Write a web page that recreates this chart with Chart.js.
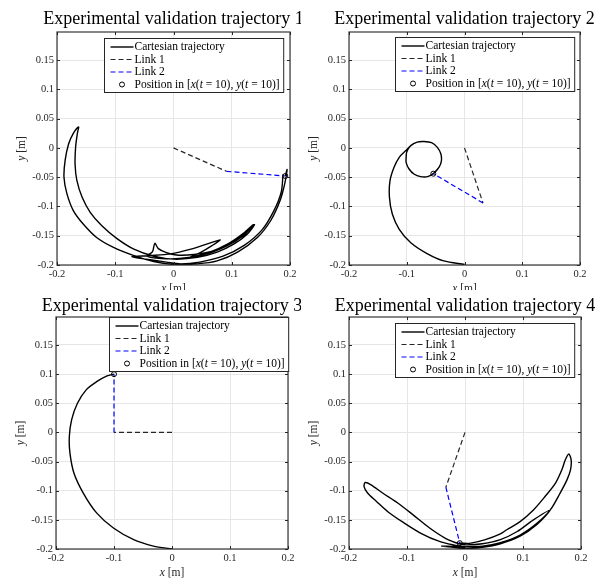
<!DOCTYPE html>
<html>
<head>
<meta charset="utf-8">
<script src="https://cdn.jsdelivr.net/npm/chart.js@4.4.1/dist/chart.umd.min.js"></script>
<style>
  body { margin: 0; background: #fff; }
  .cell { position: absolute; }
</style>
</head>
<body>
<div class="cell" style="left:0;top:0"><canvas id="c1" width="301" height="290"></canvas></div>
<div class="cell" style="left:301px;top:0"><canvas id="c2" width="301" height="290"></canvas></div>
<div class="cell" style="left:0;top:290px"><canvas id="c3" width="301" height="292"></canvas></div>
<div class="cell" style="left:301px;top:290px"><canvas id="c4" width="301" height="292"></canvas></div>
<script>
// axes / labels
const xTicks = [-0.2, -0.1, 0, 0.1, 0.2];
const yTicks = [-0.2, -0.15, -0.1, -0.05, 0, 0.05, 0.1, 0.15];
const xRange = [-0.2, 0.2];
const yRange = [-0.2, 0.198];
const titles = [
  'Experimental validation trajectory 1',
  'Experimental validation trajectory 2',
  'Experimental validation trajectory 3',
  'Experimental validation trajectory 4'
];
const legendLabels = ['Cartesian trajectory', 'Link 1', 'Link 2', 'Position in [x(t = 10), y(t = 10)]'];
const xLabel = 'x [m]';
const yLabel = 'y [m]';

// trajectory 1
const traj1 = [
  [0.188,-0.045],[0.185,-0.075],[0.172,-0.108],[0.152,-0.140],[0.122,-0.166],[0.085,-0.185],[0.045,-0.195],[0.012,-0.198],[-0.012,-0.195],
  [-0.040,-0.191],[-0.072,-0.186],[-0.040,-0.184],[-0.005,-0.181],[0.030,-0.173],[0.058,-0.164],[0.080,-0.157],
  [0.066,-0.167],[0.046,-0.179],[0.028,-0.187],[0.060,-0.179],[0.095,-0.163],[0.120,-0.146],[0.137,-0.131],
  [0.120,-0.150],[0.090,-0.168],[0.050,-0.183],[0.010,-0.189],[-0.020,-0.189],[-0.045,-0.185],
  [-0.036,-0.177],[-0.032,-0.163],[-0.026,-0.172],[-0.012,-0.179],[0.005,-0.183],[0.035,-0.182],[0.070,-0.175],[0.105,-0.158],[0.128,-0.142],[0.139,-0.131],
  [0.127,-0.147],[0.104,-0.164],[0.075,-0.178],[0.041,-0.187],[0.001,-0.190],[-0.034,-0.185],[-0.068,-0.173],[-0.097,-0.155],[-0.123,-0.133],
  [-0.143,-0.110],[-0.157,-0.084],[-0.166,-0.055],[-0.169,-0.027],[-0.168,0.002],[-0.165,0.025],[-0.163,0.036],
  [-0.172,0.025],[-0.180,0.007],[-0.186,-0.021],[-0.188,-0.050],[-0.183,-0.078],[-0.172,-0.107],[-0.155,-0.130],[-0.132,-0.153],
  [-0.103,-0.170],[-0.068,-0.184],[-0.034,-0.194],[0.000,-0.199],[0.041,-0.198],[0.075,-0.193],[0.110,-0.178],[0.144,-0.153],
  [0.167,-0.124],[0.183,-0.090],[0.191,-0.061],[0.195,-0.037],[0.192,-0.048]
];
const link1Arm1 = [[0, 0], [0.091, -0.040]];
const link1Arm2 = [[0.091, -0.040], [0.192, -0.048]];
const end1 = [[0.192, -0.048]];

// trajectory 2
const traj2 = [
  [0.000,-0.199],[-0.036,-0.193],[-0.064,-0.181],[-0.093,-0.162],[-0.113,-0.139],[-0.125,-0.113],[-0.130,-0.084],[-0.129,-0.056],
  [-0.122,-0.033],[-0.113,-0.016],[-0.102,-0.005],
  [-0.093,0.004],[-0.082,0.010],[-0.070,0.011],[-0.057,0.009],[-0.047,0.001],[-0.041,-0.010],[-0.040,-0.022],[-0.044,-0.033],
  [-0.053,-0.043],[-0.064,-0.049],[-0.076,-0.049],[-0.087,-0.045],[-0.096,-0.036],[-0.101,-0.025],[-0.101,-0.015],[-0.100,-0.007],
  [-0.093,0.004],[-0.082,0.010],[-0.070,0.011],[-0.057,0.009],[-0.047,0.001],[-0.041,-0.010],[-0.040,-0.022],[-0.044,-0.033],[-0.054,-0.044]
];
const link2Arm1 = [[0, 0], [0.032, -0.094]];
const link2Arm2 = [[0.032, -0.094], [-0.054, -0.044]];
const end2 = [[-0.054, -0.044]];

// trajectory 3
const traj3 = [
  [0.000,-0.200],[-0.032,-0.195],[-0.066,-0.184],[-0.101,-0.164],[-0.130,-0.138],[-0.153,-0.104],[-0.169,-0.070],[-0.176,-0.035],
  [-0.177,-0.007],[-0.173,0.022],[-0.163,0.050],[-0.148,0.073],[-0.130,0.087],[-0.112,0.097],[-0.100,0.100]
];
const link3Arm1 = [[0, 0], [-0.1, 0]];
const link3Arm2 = [[-0.1, 0], [-0.1, 0.1]];
const end3 = [[-0.1, 0.1]];

// trajectory 4
const traj4 = [
  [0.000,-0.197],[-0.016,-0.194],[-0.044,-0.187],[-0.076,-0.173],[-0.107,-0.154],[-0.133,-0.136],[-0.153,-0.118],[-0.168,-0.104],[-0.174,-0.093],[-0.172,-0.086],
  [-0.162,-0.090],[-0.142,-0.104],[-0.116,-0.121],[-0.090,-0.141],[-0.061,-0.164],[-0.033,-0.182],[-0.010,-0.191],[0.002,-0.193],
  [0.030,-0.191],[0.061,-0.184],[0.090,-0.170],[0.118,-0.150],[0.147,-0.133],
  [0.124,-0.158],[0.095,-0.178],[0.061,-0.191],[0.030,-0.197],[0.000,-0.199],[-0.020,-0.197],[-0.040,-0.195],
  [-0.010,-0.196],[0.030,-0.195],[0.061,-0.189],[0.095,-0.176],[0.124,-0.156],[0.147,-0.133],[0.164,-0.104],[0.176,-0.081],
  [0.182,-0.064],[0.183,-0.047],[0.179,-0.037],
  [0.173,-0.047],[0.167,-0.064],[0.156,-0.087],[0.138,-0.110],[0.118,-0.133],[0.095,-0.153],[0.072,-0.167],[0.061,-0.174],
  [0.035,-0.184],[0.010,-0.190],[-0.009,-0.190]
];
const link4Arm1 = [[0, 0], [-0.033, -0.094]];
const link4Arm2 = [[-0.033, -0.094], [-0.009, -0.190]];
const end4 = [[-0.009, -0.190]];

const SERIF = '"Liberation Serif", "Times New Roman", serif';
const AX = '#262626';

const toPts = arr => arr.map(([x, y]) => ({ x, y }));
const fmt = v => String(Number(v.toFixed(3)));

// draw text where single-letter variables are italic (x, y, t)
function richParts(txt, italicFirst) {
  if (italicFirst) return [[txt[0], true], [txt.slice(1), false]];
  const i = txt.indexOf('[');
  if (i < 0) return [[txt, false]];
  const parts = [[txt.slice(0, i), false]];
  const rest = txt.slice(i);
  let buf = '';
  for (let k = 0; k < rest.length; k++) {
    const c = rest[k];
    if ('xyt'.includes(c)) {
      if (buf) parts.push([buf, false]);
      parts.push([c, true]);
      buf = '';
    } else buf += c;
  }
  if (buf) parts.push([buf, false]);
  return parts;
}
function partsWidth(ctx, parts, size) {
  let w = 0;
  parts.forEach(([t, it]) => {
    ctx.font = (it ? 'italic ' : '') + size + 'px ' + SERIF;
    w += ctx.measureText(t).width;
  });
  return w;
}
function drawParts(ctx, parts, x, y, size) {
  parts.forEach(([t, it]) => {
    ctx.font = (it ? 'italic ' : '') + size + 'px ' + SERIF;
    ctx.fillText(t, x, y);
    x += ctx.measureText(t).width;
  });
}

const matlabAxes = {
  id: 'matlabAxes',
  afterDraw(chart, args, opts) {
    const { ctx, chartArea: a, scales } = chart;
    ctx.save();
    ctx.strokeStyle = AX;
    ctx.lineWidth = 1;
    // inward ticks on all sides
    ctx.beginPath();
    scales.x.ticks.forEach(t => {
      const px = Math.round(scales.x.getPixelForValue(t.value)) + 0.5;
      ctx.moveTo(px, a.bottom); ctx.lineTo(px, a.bottom - 3);
      ctx.moveTo(px, a.top); ctx.lineTo(px, a.top + 3);
    });
    scales.y.ticks.forEach(t => {
      const py = Math.round(scales.y.getPixelForValue(t.value)) + 0.5;
      ctx.moveTo(a.left, py); ctx.lineTo(a.left + 3, py);
      ctx.moveTo(a.right, py); ctx.lineTo(a.right - 3, py);
    });
    ctx.stroke();
    // box
    ctx.strokeStyle = 'rgba(38,38,38,0.85)';
    ctx.lineWidth = 1.3;
    ctx.strokeRect(a.left, a.top, a.right - a.left, a.bottom - a.top);

    // title
    ctx.fillStyle = '#000';
    ctx.textBaseline = 'alphabetic';
    ctx.textAlign = 'center';
    ctx.font = '18px ' + SERIF;
    ctx.fillText(opts.title, (a.left + a.right) / 2, a.top - opts.titleGap);

    // axis labels
    ctx.fillStyle = AX;
    ctx.textAlign = 'left';
    ctx.textBaseline = 'middle';
    const xl = richParts(xLabel, true);
    const xw = partsWidth(ctx, xl, 11.5);
    drawParts(ctx, xl, (a.left + a.right) / 2 - xw / 2, a.bottom + 24, 11.5);
    const yl = richParts(yLabel, true);
    const yw = partsWidth(ctx, yl, 11.5);
    ctx.save();
    ctx.translate(a.left - 35, (a.top + a.bottom) / 2);
    ctx.rotate(-Math.PI / 2);
    drawParts(ctx, yl, -yw / 2, 0, 11.5);
    ctx.restore();

    // legend box, top right inside the axes
    const ds = chart.data.datasets;
    const size = 11.5, rowH = 12.5, sample = 23, padL = 6;
    const items = ds.map(d => richParts(d.label, false));
    const tw = Math.max(...items.map(p => partsWidth(ctx, p, size)));
    const bw = padL + sample + 1 + tw + 4;
    const bh = rowH * items.length + 4;
    const bx = Math.round(a.right - opts.legendInset[0] - bw) + 0.5;
    const by = Math.round(a.top + opts.legendInset[1]) + 0.5;
    ctx.fillStyle = '#fff';
    ctx.fillRect(bx, by, bw, bh);
    ctx.strokeStyle = AX;
    ctx.lineWidth = 1;
    ctx.strokeRect(bx, by, bw, bh);
    items.forEach((parts, i) => {
      const d = ds[i];
      const cy = by + 8.5 + i * rowH;
      const sx = bx + padL;
      if (d.showLine) {
        ctx.strokeStyle = d.borderColor;
        ctx.lineWidth = d.borderWidth;
        ctx.setLineDash(d.borderDash || []);
        ctx.beginPath();
        ctx.moveTo(sx, cy); ctx.lineTo(sx + sample, cy);
        ctx.stroke();
        ctx.setLineDash([]);
      } else {
        ctx.strokeStyle = d.pointBorderColor;
        ctx.lineWidth = d.pointBorderWidth;
        ctx.beginPath();
        ctx.arc(sx + sample / 2, cy, d.pointRadius, 0, Math.PI * 2);
        ctx.stroke();
      }
      ctx.fillStyle = '#000';
      ctx.textBaseline = 'middle';
      drawParts(ctx, parts, sx + sample + 1, cy, size);
    });
    ctx.restore();
  }
};

function makeChart(id, traj, arm1, arm2, endPt, title, layout) {
  const ctx = document.getElementById(id).getContext('2d');
  return new Chart(ctx, {
    type: 'scatter',
    data: {
      datasets: [
        { label: legendLabels[0], data: toPts(traj), showLine: true, borderColor: '#000', borderWidth: 1.4,
          pointRadius: 0, tension: 0.3, order: 3 },
        { label: legendLabels[1], data: toPts(arm1), showLine: true, borderColor: '#262626', borderWidth: 1.2,
          borderDash: [5, 3], pointRadius: 0, order: 2 },
        { label: legendLabels[2], data: toPts(arm2), showLine: true, borderColor: '#0000ff', borderWidth: 1.2,
          borderDash: [5, 3], pointRadius: 0, order: 1 },
        { label: legendLabels[3], data: toPts(endPt), showLine: false, pointRadius: 2.5, pointBorderWidth: 1,
          pointBorderColor: '#000', pointBackgroundColor: 'rgba(0,0,0,0)', order: 0 }
      ]
    },
    options: {
      responsive: false,
      animation: false,
      devicePixelRatio: 1,
      layout: { padding: { left: 0, right: layout.right, top: layout.top, bottom: layout.bottom } },
      scales: {
        x: {
          type: 'linear', min: xRange[0], max: xRange[1],
          afterBuildTicks: s => { s.ticks = xTicks.map(v => ({ value: v })); },
          afterFit: s => { s.height = 20; },
          ticks: { callback: fmt, color: AX, padding: 3, maxRotation: 0, autoSkip: false,
                   font: { family: SERIF, size: 10.5 } },
          grid: { color: '#e6e6e6', drawTicks: false },
          border: { display: false }
        },
        y: {
          type: 'linear', min: yRange[0], max: yRange[1],
          afterBuildTicks: s => { s.ticks = yTicks.map(v => ({ value: v })); },
          afterFit: s => { s.width = layout.yw; },
          ticks: { callback: fmt, color: AX, padding: 3, autoSkip: false,
                   font: { family: SERIF, size: 10.5 } },
          grid: { color: '#e6e6e6', drawTicks: false },
          border: { display: false }
        }
      },
      plugins: {
        legend: { display: false },
        tooltip: { enabled: false },
        matlabAxes: { title: title, titleGap: layout.titleGap, legendInset: layout.legendInset }
      }
    },
    plugins: [matlabAxes]
  });
}

makeChart('c1', traj1, link1Arm1, link1Arm2, end1, titles[0],
  { yw: 57, right: 11, top: 32, bottom: 5, titleGap: 8.5, legendInset: [7, 6] });
makeChart('c2', traj2, link2Arm1, link2Arm2, end2, titles[1],
  { yw: 48, right: 22, top: 32, bottom: 5, titleGap: 8.5, legendInset: [6, 5] });
makeChart('c3', traj3, link3Arm1, link3Arm2, end3, titles[2],
  { yw: 56, right: 13, top: 27, bottom: 13, titleGap: 6.5, legendInset: [0, 0] });
makeChart('c4', traj4, link4Arm1, link4Arm2, end4, titles[3],
  { yw: 48, right: 21, top: 27, bottom: 13, titleGap: 6.5, legendInset: [7, 6] });
</script>
</body>
</html>
